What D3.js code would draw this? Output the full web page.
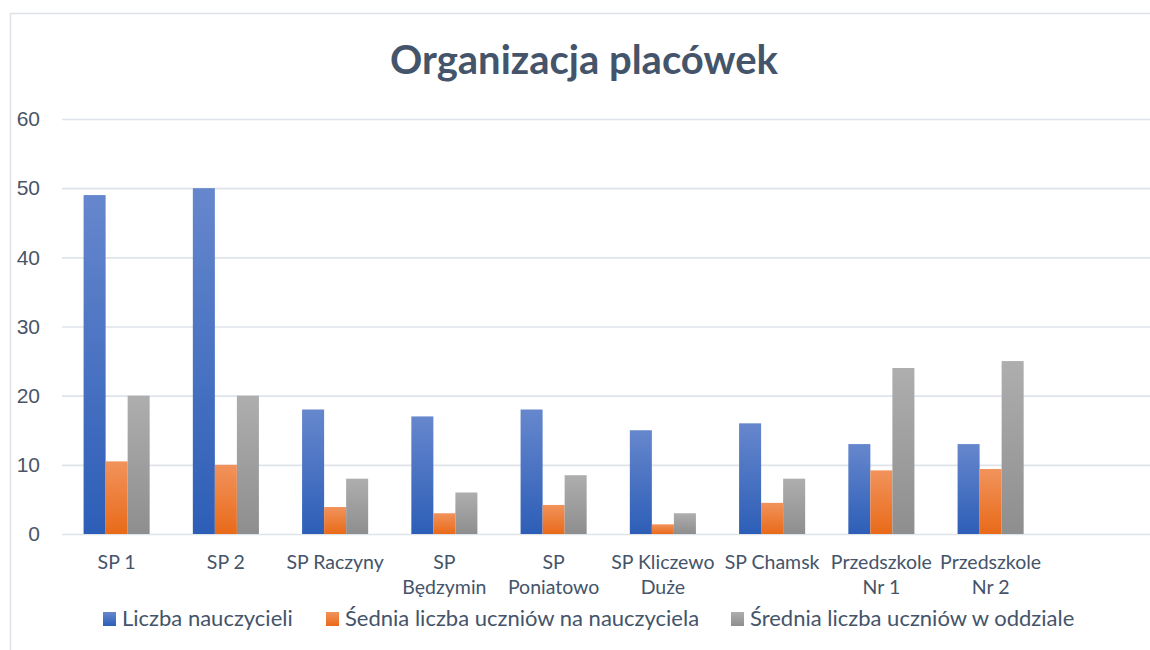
<!DOCTYPE html>
<html>
<head>
<meta charset="utf-8">
<script src="https://cdn.jsdelivr.net/npm/d3@7"></script>
<style>
  body { margin: 0; background: #fff; }
  svg { display: block; font-family: Lato, 'Open Sans', sans-serif; }
</style>
</head>
<body>
<div id="chart"></div>
<script>
const categories = [
  'SP 1', 'SP 2', 'SP Raczyny', 'SP Będzymin', 'SP Poniatowo',
  'SP Kliczewo Duże', 'SP Chamsk', 'Przedszkole Nr 1', 'Przedszkole Nr 2'
];
// how Excel wrapped the axis labels
const categoryLines = [
  ['SP 1'], ['SP 2'], ['SP Raczyny'], ['SP', 'Będzymin'], ['SP', 'Poniatowo'],
  ['SP Kliczewo', 'Duże'], ['SP Chamsk'], ['Przedszkole', 'Nr 1'], ['Przedszkole', 'Nr 2']
];
const seriesNames = [
  'Liczba nauczycieli',
  'Śednia liczba uczniów na nauczyciela',
  'Średnia liczba uczniów w oddziale'
];
const teachers = [49, 50, 18, 17, 18, 15, 16, 13, 13];
const studentsPerTeacher = [10.5, 10, 3.9, 3, 4.2, 1.4, 4.5, 9.2, 9.4];
const studentsPerClass = [20, 20, 8, 6, 8.5, 3, 8, 24, 25];
const yTicks = [0, 10, 20, 30, 40, 50, 60];

const series = [teachers, studentsPerTeacher, studentsPerClass];
const gradients = [
  ['#6687cd', '#2d5eb7'],
  ['#f1935c', '#e96a19'],
  ['#aeaeae', '#8e8e8e']
];

const W = 1150, H = 650;
const plot = { left: 62, top: 119, bottom: 534 };
const step = 109.25;

const svg = d3.select('#chart')
  .append('svg')
  .attr('width', W)
  .attr('height', H);

const defs = svg.append('defs');
gradients.forEach((g, i) => {
  const lg = defs.append('linearGradient')
    .attr('id', 'grad' + i)
    .attr('x1', 0).attr('y1', 0).attr('x2', 0).attr('y2', 1);
  lg.append('stop').attr('offset', '0%').attr('stop-color', g[0]);
  lg.append('stop').attr('offset', '100%').attr('stop-color', g[1]);
});

// chart frame
svg.append('rect')
  .attr('x', 10.5).attr('y', 13.5)
  .attr('width', W + 10).attr('height', H + 10)
  .attr('fill', 'none')
  .attr('stroke', '#dde1e8')
  .attr('stroke-width', 1.5);

svg.append('text')
  .attr('x', 584)
  .attr('y', 74)
  .attr('text-anchor', 'middle')
  .style('font-size', '40px')
  .style('font-weight', 'bold')
  .style('fill', '#44546a')
  .text('Organizacja placówek');

const x0 = d3.scaleBand()
  .domain(categories)
  .range([plot.left, plot.left + step * categories.length])
  .paddingInner(0)
  .paddingOuter(0);

const x1 = d3.scaleBand()
  .domain(d3.range(series.length))
  .range([0, x0.bandwidth()])
  .paddingInner(0)
  .paddingOuter(0.98);

const y = d3.scaleLinear()
  .domain([0, 60])
  .range([plot.bottom, plot.top]);

// gridlines + y labels
const yAxis = svg.append('g')
  .attr('transform', `translate(${plot.left},0)`)
  .call(d3.axisLeft(y).tickValues(yTicks).tickSize(-(W - plot.left)).tickPadding(22));
yAxis.select('.domain').remove();
yAxis.selectAll('.tick line')
  .attr('stroke', '#dfe3ea')
  .attr('stroke-width', 1.6);
yAxis.selectAll('.tick text')
  .style('font-size', '21px')
  .style('font-family', 'inherit')
  .style('fill', '#4a5568');

const groups = svg.append('g')
  .selectAll('g')
  .data(categories)
  .enter()
  .append('g')
  .attr('transform', d => `translate(${x0(d)},0)`);

groups.selectAll('rect')
  .data((d, i) => series.map((s, k) => ({ k, v: s[i] })))
  .enter()
  .append('rect')
  .attr('x', d => x1(d.k))
  .attr('y', d => y(d.v))
  .attr('width', x1.bandwidth())
  .attr('height', d => y(0) - y(d.v))
  .attr('fill', d => `url(#grad${d.k})`);

// category labels
const xLabels = svg.append('g')
  .selectAll('text')
  .data(categories)
  .enter()
  .append('text')
  .attr('x', d => x0(d) + x0.bandwidth() / 2)
  .attr('y', 569)
  .attr('text-anchor', 'middle')
  .style('font-size', '19.5px')
  .style('fill', '#44546a');

xLabels.selectAll('tspan')
  .data((d, i) => categoryLines[i])
  .enter()
  .append('tspan')
  .attr('x', function () { return d3.select(this.parentNode).attr('x'); })
  .attr('dy', (d, i) => i === 0 ? 0 : 25)
  .text(d => d);

// legend
const legendX = [103, 326, 731];
const legend = svg.append('g')
  .selectAll('g')
  .data(seriesNames)
  .enter()
  .append('g')
  .attr('transform', (d, i) => `translate(${legendX[i]},612)`);

legend.append('rect')
  .attr('width', 13)
  .attr('height', 14)
  .attr('fill', (d, i) => `url(#grad${i})`);

legend.append('text')
  .attr('x', 19)
  .attr('y', 14)
  .style('font-size', '22px')
  .style('fill', '#44546a')
  .text(d => d);
</script>
</body>
</html>
